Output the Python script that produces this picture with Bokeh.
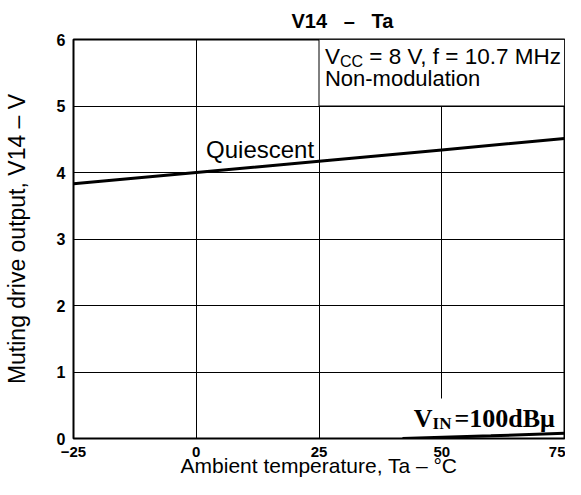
from bokeh.plotting import figure
from bokeh.models import Range1d, FixedTicker
from bokeh.core.properties import value
from bokeh.embed import file_html
from bokeh.resources import INLINE

# Data
x_ticks = [-25, 0, 25, 50, 75]
x_tick_labels = ["\u221225", "0", "25", "50", "75"]
y_ticks = [0, 1, 2, 3, 4, 5, 6]

quiescent_ta = [-25, 0, 25, 50, 75]
quiescent_v14 = [3.83, 4.0, 4.17, 4.34, 4.51]

vin_ta = [42, 60, 75]
vin_v14 = [0.0, 0.04, 0.08]

SANS = "Liberation Sans"
SERIF = "Liberation Serif"
NB = "\u00a0"

p = figure(width=565, height=479, output_backend="svg", toolbar_location=None,
           x_range=Range1d(-25, 75), y_range=Range1d(0, 6),
           min_border_left=66, min_border_right=1, min_border_top=36, min_border_bottom=41,
           title=f"V14{NB*3}\u2013{NB*3}Ta")
p.background_fill_color = "white"
p.border_fill_color = "white"
p.outline_line_color = "black"
p.outline_line_width = 2

p.title.align = "left"
p.title.offset = 218
p.title.text_font = SANS
p.title.text_font_size = "20px"
p.title.text_font_style = "bold"
p.title.text_color = "black"
p.title.standoff = 15

for ax in (p.xaxis[0], p.yaxis[0]):
    ax.axis_line_color = None
    ax.major_tick_line_color = None
    ax.minor_tick_line_color = None
    ax.major_tick_out = 0
    ax.major_tick_in = 0
    ax.minor_tick_out = 0
    ax.minor_tick_in = 0
    ax.major_label_text_font = SANS
    ax.major_label_text_font_style = "bold"
    ax.major_label_text_font_size = "16px"
    ax.major_label_text_color = "black"
    ax.axis_label_text_font = SANS
    ax.axis_label_text_font_style = "normal"
    ax.axis_label_text_color = "black"

p.xaxis.ticker = FixedTicker(ticks=x_ticks)
p.xaxis.major_label_overrides = {t: l for t, l in zip(x_ticks, x_tick_labels)}
p.xaxis.axis_label = "Ambient temperature, Ta \u2013 \u00b0C"
p.xaxis.axis_label_text_font_size = "21px"
p.xaxis.major_label_text_font_size = "15px"
p.xaxis.major_label_standoff = 8
p.xaxis.axis_label_standoff = -6

p.yaxis.ticker = FixedTicker(ticks=y_ticks)
p.yaxis.axis_label = "Muting drive output, V14 \u2013 V"
p.yaxis.axis_label_text_font_size = "23px"
p.yaxis.major_label_standoff = 8
p.yaxis.axis_label_standoff = 24

p.xgrid.ticker = FixedTicker(ticks=x_ticks)
p.ygrid.ticker = FixedTicker(ticks=y_ticks)
for g in (p.xgrid[0], p.ygrid[0]):
    g.grid_line_color = "black"
    g.grid_line_width = 1
    g.grid_line_alpha = 1.0

# Condition box (covers grid)
p.quad(left=25, right=75, bottom=5, top=6, fill_color="white", line_color="black", line_width=1)
# White patch under V_IN label
p.quad(left=41, right=74.6, bottom=0.03, top=0.6, fill_color="white", line_color=None)

# Curves
p.line(quiescent_ta, quiescent_v14, line_color="black", line_width=3)
p.line(vin_ta, vin_v14, line_color="black", line_width=3)

# Box texts
fs = 22.5
bx = 26.2
p.text(x=[bx], y=[5.75], text=["V"], text_font=value(SANS), text_font_size=f"{fs}px",
       text_baseline="alphabetic", text_align="left", text_color="black")
p.text(x=[bx], y=[5.75], text=["CC"], x_offset=0.667 * fs, y_offset=5,
       text_font=value(SANS), text_font_size="16px",
       text_baseline="alphabetic", text_align="left", text_color="black")
p.text(x=[bx], y=[5.75], text=[f"{NB}={NB}8{NB}V,{NB}f{NB}={NB}10.7{NB}MHz"],
       x_offset=0.667 * fs + 2 * 0.722 * 16,
       text_font=value(SANS), text_font_size=f"{fs}px",
       text_baseline="alphabetic", text_align="left", text_color="black")
p.text(x=[bx], y=[5.42], text=["Non-modulation"], text_font=value(SANS), text_font_size="22px",
       text_baseline="alphabetic", text_align="left", text_color="black")

# Quiescent label
p.text(x=[2.0], y=[4.35], text=["Quiescent"], text_font=value(SANS), text_font_size="24px",
       text_baseline="alphabetic", text_align="left", text_color="black")

# V_IN label
sfs = 26
vx, vy = 44.3, 0.3
p.text(x=[vx], y=[vy], text=["V"], text_font=value(SERIF), text_font_size=f"{sfs}px",
       text_font_style="bold", text_baseline="alphabetic", text_align="left", text_color="black")
p.text(x=[vx], y=[vy], text=["IN"], x_offset=0.722 * sfs, y_offset=5,
       text_font=value(SERIF), text_font_size="17px", text_font_style="bold",
       text_baseline="alphabetic", text_align="left", text_color="black")
p.text(x=[vx], y=[vy], text=["=100dB\u03bc"], x_offset=0.722 * sfs + 1.11 * 17 + 3,
       text_font=value(SERIF), text_font_size=f"{sfs}px", text_font_style="bold",
       text_baseline="alphabetic", text_align="left", text_color="black")

open("out.html", "w").write(file_html(p, INLINE))
